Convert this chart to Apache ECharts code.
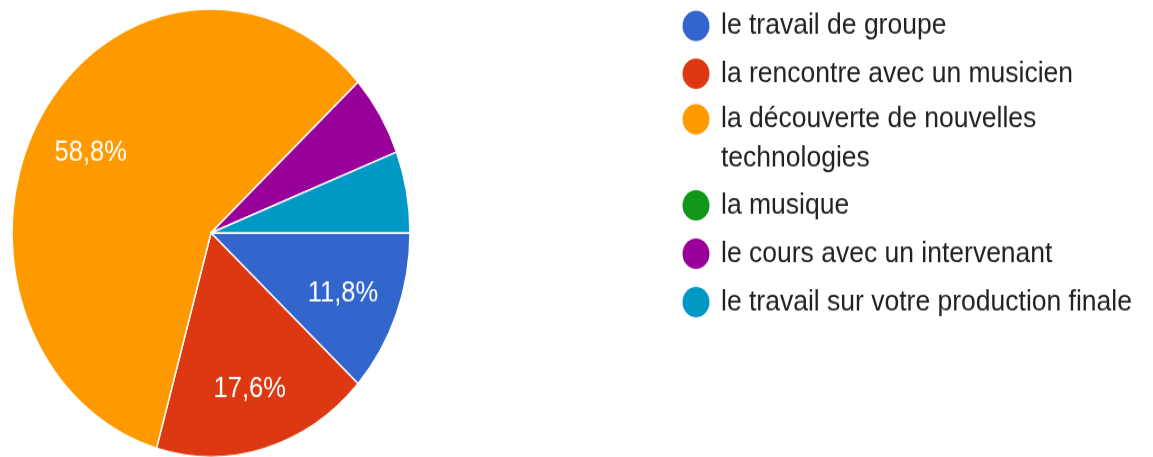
<!DOCTYPE html>
<html>
<head>
<meta charset="utf-8">
<script src="https://cdn.jsdelivr.net/npm/echarts@6/dist/echarts.min.js"></script>
<style>
  html, body { margin: 0; background: #fff; }
  #wrap { width: 1153px; height: 457px; overflow: hidden; }
  /* the reference pie is an ellipse: the whole picture was stretched vertically */
  #chart { width: 1153px; height: 406px; transform: scaleY(1.125); transform-origin: 0 0; }
</style>
</head>
<body>
<div id="wrap"><div id="chart"></div></div>
<script>
const categories = [
  'le travail de groupe',
  'la rencontre avec un musicien',
  'la découverte de nouvelles technologies',
  'la musique',
  'le cours avec un intervenant',
  'le travail sur votre production finale',
]
const counts = [2, 3, 10, 0, 1, 1]

const COLORS = ['#3366cc', '#dc3912', '#ff9900', '#109618', '#990099', '#0099c6']
const FONT = '"Liberation Sans", Arial, sans-serif'

const total = counts.reduce((a, b) => a + b, 0)
const data = categories.map((name, i) => ({ name, value: counts[i] }))

// dot of r=13.5 drawn in a 40px wide box; the tall variant keeps the dot at the top
const DOT = 'path://M0,0L0,0M40,27L40,27M6.5,13.5A13.5,13.5,0,1,1,33.5,13.5A13.5,13.5,0,1,1,6.5,13.5Z'
const TOP_DOT = 'path://M0,0L0,0M40,62L40,62M6.5,13.5A13.5,13.5,0,1,1,33.5,13.5A13.5,13.5,0,1,1,6.5,13.5Z'

const legendText = {
  fontFamily: FONT,
  fontSize: 26.5,
  color: '#222',
  lineHeight: 35,
  width: 425,
  overflow: 'break',
}
const legendBase = {
  orient: 'vertical',
  left: 676,
  padding: 0,
  icon: DOT,
  itemWidth: 40,
  itemHeight: 27,
  itemGap: 9,
  selectedMode: false,
  itemStyle: { borderWidth: 0 },
  textStyle: legendText,
}

const chart = echarts.init(document.getElementById('chart'))
chart.setOption({
  backgroundColor: '#fff',
  animation: false,
  color: COLORS,
  legend: [
    { ...legendBase, data: categories.slice(0, 2), top: 5.5, itemGap: 7.5 },
    { ...legendBase, data: categories.slice(2, 3), top: 88.5, icon: TOP_DOT, itemHeight: 62 },
    { ...legendBase, data: categories.slice(3), top: 165, itemGap: 8 },
  ],
  series: [
    {
      type: 'pie',
      center: [211, 207],
      radius: 199,
      startAngle: 0,
      clockwise: true,
      label: { show: false },
      labelLine: { show: false },
      emphasis: { scale: false },
      itemStyle: { borderColor: '#fff', borderWidth: 1.5 },
      data,
    },
    {
      // invisible twin, only to put the percentages further out than mid-radius
      type: 'pie',
      silent: true,
      center: [211, 207],
      radius: 277,
      startAngle: 0,
      clockwise: true,
      itemStyle: { color: 'transparent', borderWidth: 0 },
      labelLine: { show: false },
      label: {
        show: true,
        position: 'inside',
        offset: [0, 3],
        color: '#fff',
        fontFamily: FONT,
        fontSize: 25.5,
        formatter: (p) => {
          const pct = (p.value / total) * 100
          return pct < 10 ? '' : pct.toFixed(1).replace('.', ',') + '%'
        },
      },
      data,
    },
  ],
})
</script>
</body>
</html>
